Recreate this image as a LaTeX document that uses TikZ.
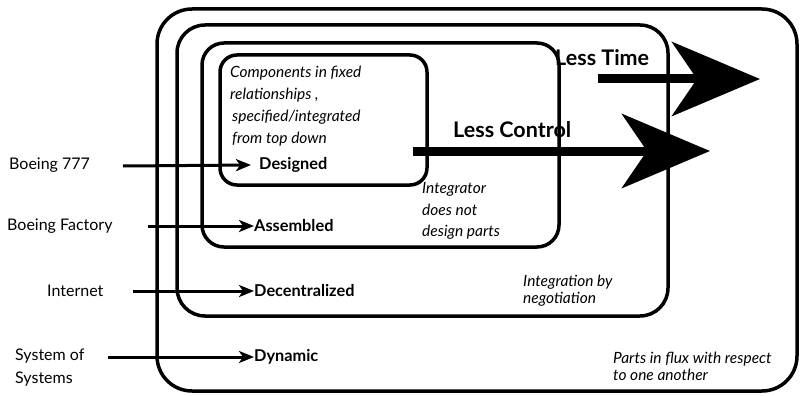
\documentclass[tikz,border=0pt]{standalone}
\usepackage{fontspec}
\setmainfont{Lato}
\usetikzlibrary{arrows.meta}
\tikzset{
  box/.style={draw=black, line width=3.5pt, inner sep=0pt},
  lvl/.style={anchor=west, inner sep=0pt, font=\bfseries\fontsize{16.3}{18}\selectfont},
  src/.style={anchor=west, inner sep=0pt, font=\fontsize{16}{23}\selectfont, align=left},
  note/.style={anchor=west, inner sep=0pt, font=\itshape\fontsize{15.5}{17}\selectfont, align=left},
  feed/.style={line width=3pt, -{Stealth[length=15pt,width=12pt,inset=4pt]}},
  big/.style={line width=9pt, -{Stealth[length=88pt,width=74pt,inset=25pt]}},
  bigtext/.style={anchor=west, inner sep=0pt, font=\bfseries\fontsize{21.5}{24}\selectfont}
}
\begin{document}
\begin{tikzpicture}[x=1pt,y=-1pt]
\useasboundingbox (0,0) rectangle (801,396);
% nested boxes
\node[box, rounded corners=35pt, minimum width=640pt, minimum height=382pt] (dynbox) at (477,200) {};
\node[box, rounded corners=28pt, minimum width=491pt, minimum height=291pt] (decbox) at (422.5,170.5) {};
\node[box, rounded corners=22pt, minimum width=357pt, minimum height=204pt] (asmbox) at (380.5,145) {};
\node[box, rounded corners=17pt, minimum width=207pt, minimum height=130pt] (desbox) at (323.5,120) {};
% level labels
\node[lvl] (designed) at (259,165) {Designed};
\node[lvl] (assembled) at (254,226) {Assembled};
\node[lvl] (decentral) at (254,291) {Decentralized};
\node[lvl] (dynamic) at (254,357) {Dynamic};
% source labels
\node[src] (b777) at (9,165) {Boeing 777};
\node[src] (bfac) at (7,226) {Boeing Factory};
\node[src] (inet) at (47,291) {Internet};
\node[src] (sos) at (15,368) {System of\\Systems};
% feed arrows
\coordinate (s1) at (123,166);
\coordinate (s2) at (148,226);
\coordinate (s3) at (133,291);
\coordinate (s4) at (108,357);
\draw[feed] (s1) -- ([xshift=-8pt]designed.west);
\draw[feed] (s2) -- (assembled.west);
\draw[feed] (s3) -- (decentral.west);
\draw[feed] (s4) -- (dynamic.west);
% notes
\node[note, font=\itshape\fontsize{15.5}{22}\selectfont] (comp) at (230,106) {Components in fixed\\relationships ,\\\hspace*{2pt}specified/integrated\\\hspace*{2pt}from top down};
\node[note, font=\itshape\fontsize{15.5}{21.5}\selectfont] (integ) at (422,211) {Integrator\\does not\\design parts};
\node[note] (nego) at (523,291) {Integration by\\negotiation};
\node[note] (flux) at (613,366) {Parts in flux with respect\\to one another};
% big arrows
\node[bigtext] (lesstime) at (555,58) {Less Time};
\node[bigtext] (lessctrl) at (453,130) {Less Control};
\coordinate (t0) at (598,79);
\coordinate (t1) at (760,79);
\coordinate (c0) at (413,151);
\coordinate (c1) at (710,151);
\draw[big] (t0) -- (t1);
\draw[big] (c0) -- (c1);
\end{tikzpicture}
\end{document}
